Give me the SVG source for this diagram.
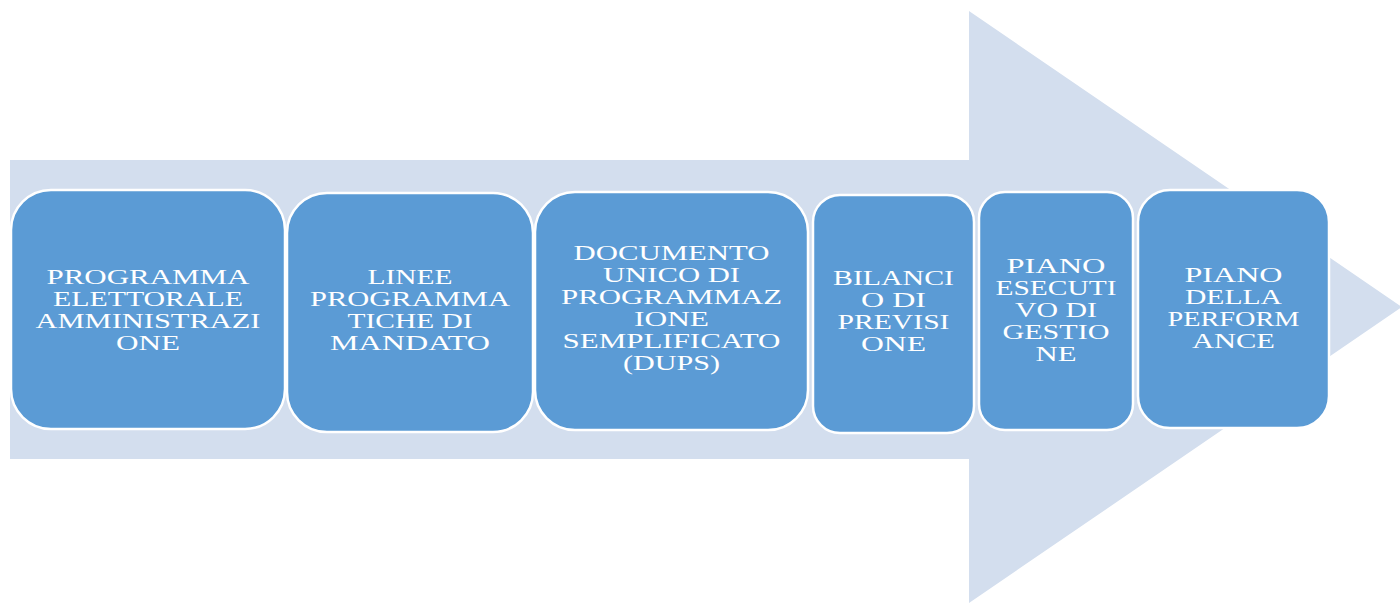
<svg xmlns="http://www.w3.org/2000/svg" width="1400" height="604" viewBox="0 0 1400 604">
<style>
.bg{fill:#ffffff}
.arrow{fill:#D3DEEE}
.box{fill:#5B9BD5;stroke:#ffffff;stroke-width:2.5}
.lbl{font-family:"Liberation Serif","DejaVu Serif",serif;font-size:20px;fill:#ffffff;text-anchor:middle}
</style>
<rect class="bg" x="0" y="0" width="1400" height="604"/>
<g id="connectors">
<polygon id="big-arrow" class="arrow" points="10,160 969,160 969,11 1402,307 969,603 969,459 10,459"/>
</g>
<g id="n1">
<rect class="box" x="11" y="190" width="274" height="239" rx="40" ry="40"/>
<text class="lbl" lengthAdjust="spacingAndGlyphs"><tspan x="148" y="284" textLength="203" lengthAdjust="spacingAndGlyphs">PROGRAMMA</tspan></text>
<text class="lbl"><tspan x="148" y="306" textLength="190" lengthAdjust="spacingAndGlyphs">ELETTORALE</tspan></text>
<text class="lbl"><tspan x="148" y="328" textLength="225" lengthAdjust="spacingAndGlyphs">AMMINISTRAZI</tspan></text>
<text class="lbl"><tspan x="148" y="350" textLength="64" lengthAdjust="spacingAndGlyphs">ONE</tspan></text>
</g>
<g id="n2">
<rect class="box" x="287" y="193" width="246" height="239" rx="40" ry="40"/>
<text class="lbl"><tspan x="410" y="284" textLength="85" lengthAdjust="spacingAndGlyphs">LINEE</tspan></text>
<text class="lbl"><tspan x="410" y="306" textLength="200" lengthAdjust="spacingAndGlyphs">PROGRAMMA</tspan></text>
<text class="lbl"><tspan x="410" y="328" textLength="125" lengthAdjust="spacingAndGlyphs">TICHE DI</tspan></text>
<text class="lbl"><tspan x="410" y="350" textLength="160" lengthAdjust="spacingAndGlyphs">MANDATO</tspan></text>
</g>
<g id="n3">
<rect class="box" x="535" y="192" width="273" height="238" rx="40" ry="40"/>
<text class="lbl"><tspan x="671.5" y="260" textLength="196" lengthAdjust="spacingAndGlyphs">DOCUMENTO</tspan></text>
<text class="lbl"><tspan x="671.5" y="282" textLength="137" lengthAdjust="spacingAndGlyphs">UNICO DI</tspan></text>
<text class="lbl"><tspan x="671.5" y="304" textLength="221" lengthAdjust="spacingAndGlyphs">PROGRAMMAZ</tspan></text>
<text class="lbl"><tspan x="671.5" y="326" textLength="75" lengthAdjust="spacingAndGlyphs">IONE</tspan></text>
<text class="lbl"><tspan x="671.5" y="348" textLength="218" lengthAdjust="spacingAndGlyphs">SEMPLIFICATO</tspan></text>
<text class="lbl"><tspan x="671.5" y="370" textLength="97" lengthAdjust="spacingAndGlyphs">(DUPS)</tspan></text>
</g>
<g id="n4">
<rect class="box" x="813" y="195" width="161" height="238" rx="27" ry="27"/>
<text class="lbl"><tspan x="893.5" y="285" textLength="121" lengthAdjust="spacingAndGlyphs">BILANCI</tspan></text>
<text class="lbl"><tspan x="893.5" y="307" textLength="65" lengthAdjust="spacingAndGlyphs">O DI</tspan></text>
<text class="lbl"><tspan x="893.5" y="329" textLength="112" lengthAdjust="spacingAndGlyphs">PREVISI</tspan></text>
<text class="lbl"><tspan x="893.5" y="351" textLength="65" lengthAdjust="spacingAndGlyphs">ONE</tspan></text>
</g>
<g id="n5">
<rect class="box" x="979" y="192" width="154" height="238" rx="26" ry="26"/>
<text class="lbl"><tspan x="1056" y="273" textLength="99" lengthAdjust="spacingAndGlyphs">PIANO</tspan></text>
<text class="lbl"><tspan x="1056" y="295" textLength="121" lengthAdjust="spacingAndGlyphs">ESECUTI</tspan></text>
<text class="lbl"><tspan x="1056" y="317" textLength="82" lengthAdjust="spacingAndGlyphs">VO DI</tspan></text>
<text class="lbl"><tspan x="1056" y="339" textLength="107" lengthAdjust="spacingAndGlyphs">GESTIO</tspan></text>
<text class="lbl"><tspan x="1056" y="361" textLength="41" lengthAdjust="spacingAndGlyphs">NE</tspan></text>
</g>
<g id="n6">
<rect class="box" x="1138" y="190" width="191" height="238" rx="32" ry="32"/>
<text class="lbl"><tspan x="1233.5" y="282" textLength="98" lengthAdjust="spacingAndGlyphs">PIANO</tspan></text>
<text class="lbl"><tspan x="1233.5" y="304" textLength="97" lengthAdjust="spacingAndGlyphs">DELLA</tspan></text>
<text class="lbl"><tspan x="1233.5" y="326" textLength="132" lengthAdjust="spacingAndGlyphs">PERFORM</tspan></text>
<text class="lbl"><tspan x="1233.5" y="348" textLength="83" lengthAdjust="spacingAndGlyphs">ANCE</tspan></text>
</g>
</svg>
